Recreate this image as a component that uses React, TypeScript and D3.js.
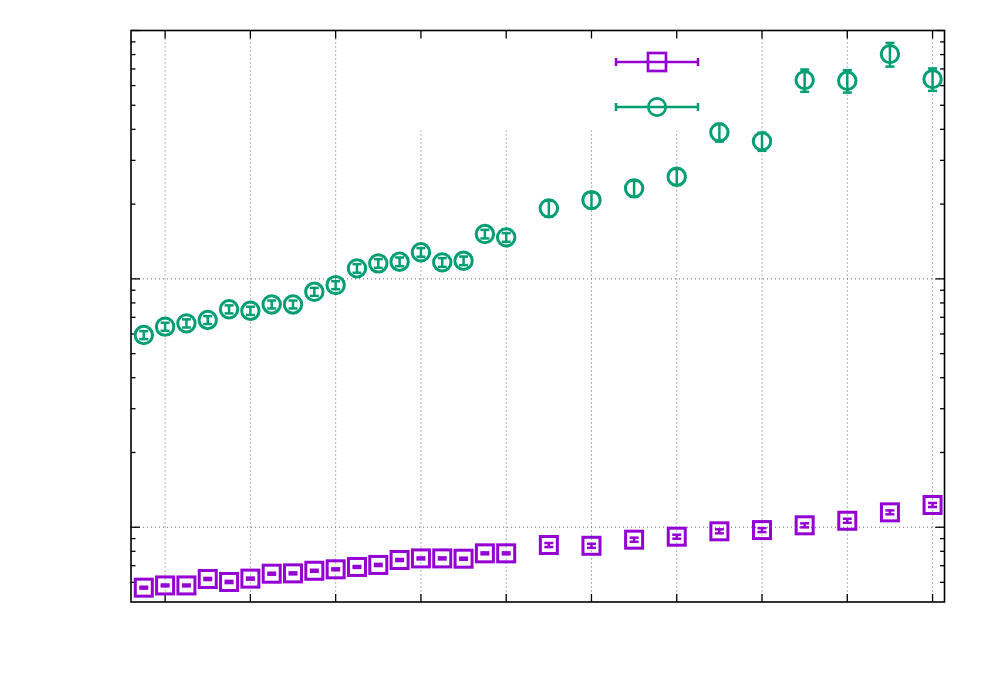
import * as d3 from "d3";
import React from "react";

// x positions of the measurements (ticks sit at 1..10)
const xValues = [
  0.75, 1, 1.25, 1.5, 1.75, 2, 2.25, 2.5, 2.75, 3, 3.25, 3.5, 3.75, 4, 4.25, 4.5,
  4.75, 5, 5.5, 6, 6.5, 7, 7.5, 8, 8.5, 9, 9.5, 10,
];

// purple squares
const squareValues = [
  0.0571, 0.0583, 0.0583, 0.0619, 0.0602, 0.0621, 0.065, 0.0652, 0.0668, 0.0677,
  0.0692, 0.0705, 0.0738, 0.0749, 0.0749, 0.0747, 0.0785, 0.0785, 0.0848, 0.0842,
  0.0891, 0.0916, 0.0963, 0.0974, 0.1018, 0.1062, 0.1148, 0.1229,
];
const squareErrors = [
  0.0005, 0.0005, 0.0005, 0.0006, 0.0006, 0.0006, 0.0006, 0.0006, 0.0006, 0.0006,
  0.0006, 0.0007, 0.0007, 0.0007, 0.0007, 0.0007, 0.0007, 0.0007, 0.0016, 0.0016,
  0.0017, 0.0017, 0.0018, 0.0018, 0.0019, 0.002, 0.0021, 0.0023,
];

// green circles
const circleValues = [
  0.594, 0.642, 0.662, 0.683, 0.754, 0.744, 0.789, 0.789, 0.887, 0.944, 1.102,
  1.154, 1.172, 1.279, 1.165, 1.183, 1.515, 1.469, 1.922, 2.076, 2.314, 2.577,
  3.889, 3.577, 6.314, 6.273, 8.035, 6.373,
];
const circleErrors = [
  0.022, 0.024, 0.025, 0.025, 0.028, 0.028, 0.029, 0.029, 0.033, 0.035, 0.044,
  0.046, 0.047, 0.051, 0.047, 0.047, 0.06, 0.059, 0.142, 0.154, 0.171, 0.19,
  0.32, 0.3, 0.65, 0.65, 0.88, 0.66,
];

const xTicks = [1, 2, 3, 4, 5, 6, 7, 8, 9, 10];
const yMajorTicks = [0.1, 1, 10];
const yMinorTicks = [0.06, 0.07, 0.08, 0.09, 0.2, 0.3, 0.4, 0.5, 0.6, 0.7, 0.8, 0.9, 2, 3, 4, 5, 6, 7, 8, 9];

const PURPLE = "#9400d3";
const GREEN = "#009e73";

export default function App() {
  const left = 131;
  const right = 944.5;
  const top = 30.5;
  const bottom = 602;

  const x = d3.scaleLinear().domain([0.6, 10.14]).range([left, right]);
  const y = d3.scaleLog().domain([0.05, 10]).range([bottom, top]);

  const cap = 4.5;

  const errorBar = (xv: number, v: number, e: number, color: string, key: string) => {
    const cx = x(xv);
    const y1 = y(v - e);
    const y2 = y(v + e);
    return (
      <g key={key} stroke={color} strokeWidth={2.5}>
        <line x1={cx} x2={cx} y1={y1} y2={y2} />
        <line x1={cx - cap} x2={cx + cap} y1={y1} y2={y1} />
        <line x1={cx - cap} x2={cx + cap} y1={y2} y2={y2} />
      </g>
    );
  };

  const sq = 17;
  const r = 8.7;

  return (
    <svg
      width={1000}
      height={700}
      style={{ position: "absolute", left: 0, top: 0, background: "#fff" }}
    >
      <rect x={0} y={0} width={1000} height={700} fill="#fff" />

      {/* grid */}
      <g stroke="#666" strokeWidth={1} strokeDasharray="1,3">
        {xTicks.map((t) => (
          <line key={"gx" + t} x1={x(t)} x2={x(t)} y1={top} y2={bottom} />
        ))}
        {yMajorTicks.slice(0, 2).map((t) => (
          <line key={"gy" + t} x1={left} x2={right} y1={y(t)} y2={y(t)} />
        ))}
      </g>

      {/* opaque key area */}
      <rect x={395} y={top + 1} width={317} height={99} fill="#fff" />

      {/* border and ticks */}
      <g stroke="#000" strokeWidth={1.3}>
        {xTicks.map((t) => (
          <g key={"tx" + t}>
            <line x1={x(t)} x2={x(t)} y1={bottom} y2={bottom - 8} />
            <line x1={x(t)} x2={x(t)} y1={top} y2={top + 8} />
          </g>
        ))}
        {yMajorTicks.map((t) => (
          <g key={"ty" + t}>
            <line x1={left} x2={left + 9} y1={y(t)} y2={y(t)} />
            <line x1={right} x2={right - 9} y1={y(t)} y2={y(t)} />
          </g>
        ))}
        {yMinorTicks.map((t) => (
          <g key={"tm" + t}>
            <line x1={left} x2={left + 4.5} y1={y(t)} y2={y(t)} />
            <line x1={right} x2={right - 4.5} y1={y(t)} y2={y(t)} />
          </g>
        ))}
        <rect x={left} y={top} width={right - left} height={bottom - top} fill="none" strokeWidth={1.6} />
      </g>

      {/* purple series */}
      {xValues.map((xv, i) => errorBar(xv, squareValues[i], squareErrors[i], PURPLE, "se" + i))}
      {xValues.map((xv, i) => (
        <rect
          key={"s" + i}
          x={x(xv) - sq / 2}
          y={y(squareValues[i]) - sq / 2}
          width={sq}
          height={sq}
          fill="none"
          stroke={PURPLE}
          strokeWidth={3}
        />
      ))}

      {/* green series */}
      {xValues.map((xv, i) => errorBar(xv, circleValues[i], circleErrors[i], GREEN, "ce" + i))}
      {xValues.map((xv, i) => (
        <circle
          key={"c" + i}
          cx={x(xv)}
          cy={y(circleValues[i])}
          r={r}
          fill="none"
          stroke={GREEN}
          strokeWidth={3}
        />
      ))}

      {/* key */}
      {[
        { color: PURPLE, ky: 62, shape: "square" },
        { color: GREEN, ky: 107, shape: "circle" },
      ].map((k) => (
        <g key={k.shape} stroke={k.color} strokeWidth={2.5} fill="none">
          <line x1={616} x2={698} y1={k.ky} y2={k.ky} />
          <line x1={616} x2={616} y1={k.ky - 4} y2={k.ky + 4} />
          <line x1={698} x2={698} y1={k.ky - 4} y2={k.ky + 4} />
          {k.shape === "square" ? (
            <rect x={657 - 9} y={k.ky - 9} width={18} height={18} strokeWidth={2.7} />
          ) : (
            <circle cx={657} cy={k.ky} r={8.7} strokeWidth={2.7} />
          )}
        </g>
      ))}
    </svg>
  );
}
